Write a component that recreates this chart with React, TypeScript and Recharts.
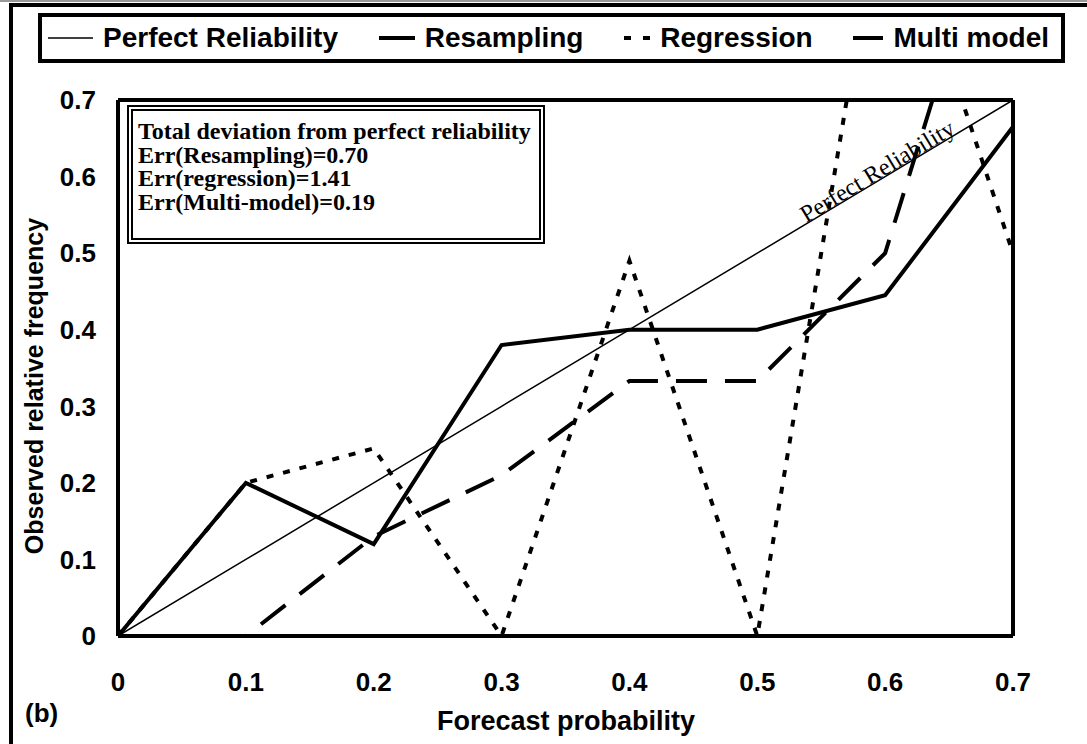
import React from "react";
import { LineChart, Line, XAxis, YAxis, ReferenceLine, ReferenceDot } from "recharts";

// forecast probability bins
const probs = [0, 0.1, 0.2, 0.3, 0.4, 0.5, 0.6, 0.7];
// observed relative frequency per method
const perfect = [0, 0.1, 0.2, 0.3, 0.4, 0.5, 0.6, 0.7];
const resampling = [0, 0.2, 0.12, 0.38, 0.4, 0.4, 0.445, 0.665];
const regression = [0, 0.2, 0.245, 0, 0.49, 0, 1.0, 0.5];
const multiModel = [0, 0, 0.13, 0.21, 0.333, 0.333, 0.5, 1.04];

const xTicks = [0, 0.1, 0.2, 0.3, 0.4, 0.5, 0.6, 0.7];
const yTicks = [0, 0.1, 0.2, 0.3, 0.4, 0.5, 0.6, 0.7];

const errLines = [
  "Total deviation from perfect reliability",
  "Err(Resampling)=0.70",
  "Err(regression)=1.41",
  "Err(Multi-model)=0.19",
];

const series = [
  { key: "perfect", name: "Perfect Reliability", values: perfect, width: 1.5, dash: undefined, sample: 45, legendDash: undefined },
  { key: "resampling", name: "Resampling", values: resampling, width: 4, dash: undefined, sample: 36, legendDash: undefined },
  { key: "regression", name: "Regression", values: regression, width: 4, dash: "7 10", sample: 26, legendDash: "7 12" },
  { key: "multi", name: "Multi model", values: multiModel, width: 4, dash: "31 18", sample: 30, legendDash: undefined },
];

const SANS = '"Liberation Sans", Arial, sans-serif';
const SERIF = '"Liberation Serif", "Times New Roman", serif';

const fmt = (v: number) => (v === 0 ? "0" : v.toFixed(1));

function PerfectLabel(props: any) {
  const vb = props.viewBox || {};
  const cx = (vb.x || 0) + (vb.width || 0) / 2;
  const cy = (vb.y || 0) + (vb.height || 0) / 2;
  return (
    <text
      transform={`translate(${cx},${cy - 1}) rotate(-31)`}
      textAnchor="middle"
      fontFamily={SERIF}
      fontSize={24}
      fill="#000"
    >
      Perfect Reliability
    </text>
  );
}

export default function App() {
  const data = probs.map((p, i) => ({
    p,
    perfect: perfect[i],
    resampling: resampling[i],
    regression: regression[i],
    multi: multiModel[i],
  }));

  return (
    <div
      style={{
        position: "absolute",
        left: 0,
        top: 0,
        width: 1087,
        height: 744,
        overflow: "hidden",
        background: "#fff",
        fontFamily: SANS,
      }}
    >
      {/* outer frame (only top and left visible) */}
      <div style={{ position: "absolute", left: 0, top: 0, width: 1087, height: 2, background: "#999" }} />
      <div
        style={{
          position: "absolute",
          left: 9,
          top: 3,
          width: 1200,
          height: 900,
          borderLeft: "4px solid #000",
          borderTop: "4px solid #000",
        }}
      />

      {/* legend */}
      <div
        style={{
          position: "absolute",
          left: 38,
          top: 13,
          width: 1027,
          height: 50,
          boxSizing: "border-box",
          border: "4px solid #000",
          display: "flex",
          alignItems: "center",
          justifyContent: "space-between",
          padding: "0 12px 0 6px",
          fontWeight: 700,
          fontSize: 28,
          background: "#fff",
        }}
      >
        {series.map((s) => (
          <div key={s.key} style={{ display: "flex", alignItems: "center" }}>
            <svg width={s.sample} height={12} style={{ marginRight: 10 }}>
              <line
                x1={0}
                y1={6}
                x2={s.sample}
                y2={6}
                stroke="#000"
                strokeWidth={s.width}
                strokeDasharray={s.legendDash}
              />
            </svg>
            <span>{s.name}</span>
          </div>
        ))}
      </div>

      <LineChart
        width={1087}
        height={744}
        data={data}
        margin={{ top: 100, right: 74, bottom: 68, left: 58 }}
        style={{ position: "absolute", left: 0, top: 0 }}
      >
        <XAxis
          dataKey="p"
          type="number"
          domain={[0, 0.7]}
          ticks={xTicks}
          tickFormatter={fmt}
          axisLine={{ stroke: "#000", strokeWidth: 4 }}
          tickLine={false}
          tickSize={0}
          tickMargin={37}
          height={40}
          tick={{ fill: "#000", fontSize: 26, fontWeight: 700, fontFamily: SANS }}
        />
        <YAxis
          type="number"
          domain={[0, 0.7]}
          allowDataOverflow
          ticks={yTicks}
          tickFormatter={fmt}
          axisLine={{ stroke: "#000", strokeWidth: 4 }}
          tickLine={false}
          tickSize={0}
          tickMargin={22}
          width={60}
          tick={{ fill: "#000", fontSize: 26, fontWeight: 700, fontFamily: SANS }}
        />
        <ReferenceLine y={0.7} stroke="#000" strokeWidth={4} />
        <ReferenceLine x={0.7} stroke="#000" strokeWidth={4} />
        {series.map((s) => (
          <Line
            key={s.key}
            dataKey={s.key}
            stroke="#000"
            strokeWidth={s.width}
            strokeDasharray={s.dash}
            dot={false}
            activeDot={false}
            isAnimationActive={false}
          />
        ))}
        <ReferenceDot
          x={0.597}
          y={0.597}
          r={1}
          fill="none"
          stroke="none"
          label={{ content: (p: any) => <PerfectLabel {...p} /> }}
        />
      </LineChart>

      {/* error summary box */}
      <div
        style={{
          position: "absolute",
          left: 127,
          top: 105,
          boxSizing: "border-box",
          border: "6px double #000",
          padding: "9px 8px 24px 5px",
          background: "#fff",
          fontFamily: SERIF,
          fontWeight: 700,
          fontSize: 24,
          lineHeight: "23.5px",
          whiteSpace: "nowrap",
        }}
      >
        {errLines.map((t) => (
          <div key={t}>{t}</div>
        ))}
      </div>

      {/* axis titles */}
      <div
        style={{
          position: "absolute",
          left: 34,
          top: 386,
          transform: "translate(-50%, -50%) rotate(-90deg)",
          whiteSpace: "nowrap",
          fontWeight: 700,
          fontSize: 25,
        }}
      >
        Observed relative frequency
      </div>
      <div
        style={{
          position: "absolute",
          left: 566,
          top: 721,
          transform: "translate(-50%, -50%)",
          whiteSpace: "nowrap",
          fontWeight: 700,
          fontSize: 27,
        }}
      >
        Forecast probability
      </div>
      <div
        style={{
          position: "absolute",
          left: 25,
          top: 713,
          transform: "translateY(-50%)",
          fontWeight: 700,
          fontSize: 26,
        }}
      >
        (b)
      </div>
    </div>
  );
}
